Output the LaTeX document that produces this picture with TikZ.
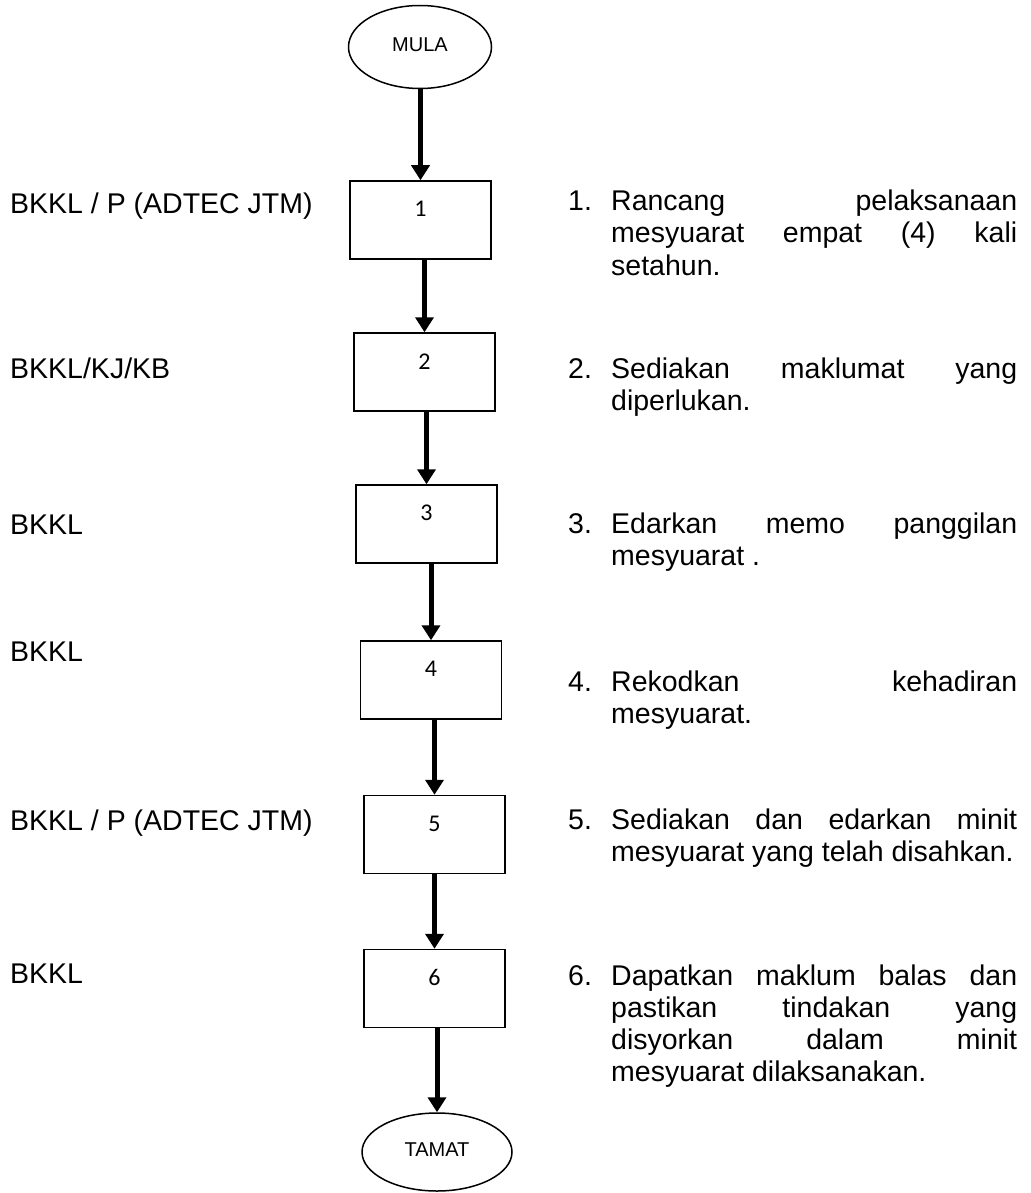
\documentclass[tikz,border=0pt]{standalone}
\usepackage{fontspec}
\setmainfont{Liberation Sans}
\newfontfamily\calibri{Carlito}
\usetikzlibrary{shapes.geometric,arrows.meta,calc}
\begin{document}
\begin{tikzpicture}[x=1pt,y=-1pt,
  stepbox/.style={draw,line width=1.5pt,minimum width=141pt,minimum height=78pt,inner sep=0},
  steplbl/.style={font=\calibri\fontsize{24pt}{28pt}\selectfont,inner sep=0},
  term/.style={draw,ellipse,line width=1.5pt,inner sep=0,font=\fontsize{20pt}{23pt}\selectfont},
  flow/.style={line width=5pt,-{Triangle[width=18pt,length=15pt]}},
  who/.style={anchor=base west,inner sep=0,font=\fontsize{28.5pt}{32pt}\selectfont},
  task/.style={anchor=base west,inner sep=0,font=\fontsize{28.5pt}{32pt}\selectfont}]
\useasboundingbox (0,0) rectangle (1030,1193);

% start and end terminals
\node[term,minimum width=143pt,minimum height=83pt] (mula) at (420,47) {\raisebox{5pt}{MULA}};
\node[term,minimum width=150pt,minimum height=78pt] (tamat) at (437,1152) {\raisebox{4pt}{TAMAT}};

% process steps
\node[stepbox] (b1) at (420.5,220) {};
\node[stepbox] (b2) at (424.5,372) {};
\node[stepbox] (b3) at (426.5,524) {};
\node[stepbox] (b4) at (431,680) {};
\node[stepbox] (b5) at (434.5,834.5) {};
\node[stepbox] (b6) at (434.5,988.5) {};
\foreach \n in {1,...,6}
  \node[steplbl] (n\n) at ([yshift=-29pt]b\n.north) {\n};

% flow arrows
\draw[flow] (mula.south -| b1.north) -- (b1.north);
\draw[flow] (b1.south -| b2.north) -- (b2.north);
\draw[flow] (b2.south -| b3.north) -- (b3.north);
\draw[flow] (b3.south -| b4.north) -- (b4.north);
\draw[flow] (b4.south -| b5.north) -- (b5.north);
\draw[flow] (b5.south -| b6.north) -- (b6.north);
\draw[flow] (b6.south -| tamat.north) -- (tamat.north);

% responsible parties
\node[who] (w1) at (10,213) {BKKL / P (ADTEC JTM)};
\node[who] (w2) at (10,378) {BKKL/KJ/KB};
\node[who] (w3) at (10,534) {BKKL};
\node[who] (w4) at (10,661) {BKKL};
\node[who] (w5) at (10,830) {BKKL / P (ADTEC JTM)};
\node[who] (w6) at (10,983) {BKKL};

% task descriptions
\node[task] (t1) at (568,211) {\makebox[43pt][l]{1.}\parbox[t]{406pt}{Rancang\hfill pelaksanaan\\ mesyuarat\hfill empat\hfill (4)\hfill kali\\ setahun.}};
\node[task] (t2) at (568,378) {\makebox[43pt][l]{2.}\parbox[t]{406pt}{Sediakan\hfill maklumat\hfill yang\\ diperlukan.}};
\node[task] (t3) at (568,533) {\makebox[43pt][l]{3.}\parbox[t]{406pt}{Edarkan\hfill memo\hfill panggilan\\ mesyuarat .}};
\node[task] (t4) at (568,691) {\makebox[43pt][l]{4.}\parbox[t]{406pt}{Rekodkan\hfill kehadiran\\ mesyuarat.}};
\node[task] (t5) at (568,829) {\makebox[43pt][l]{5.}\parbox[t]{406pt}{Sediakan\hfill dan\hfill edarkan\hfill minit\\ mesyuarat yang telah disahkan.}};
\node[task] (t6) at (568,985) {\makebox[43pt][l]{6.}\parbox[t]{406pt}{Dapatkan\hfill maklum\hfill balas\hfill dan\\ pastikan\hfill tindakan\hfill yang\\ disyorkan\hfill dalam\hfill minit\\ mesyuarat dilaksanakan.}};
\end{tikzpicture}
\end{document}
